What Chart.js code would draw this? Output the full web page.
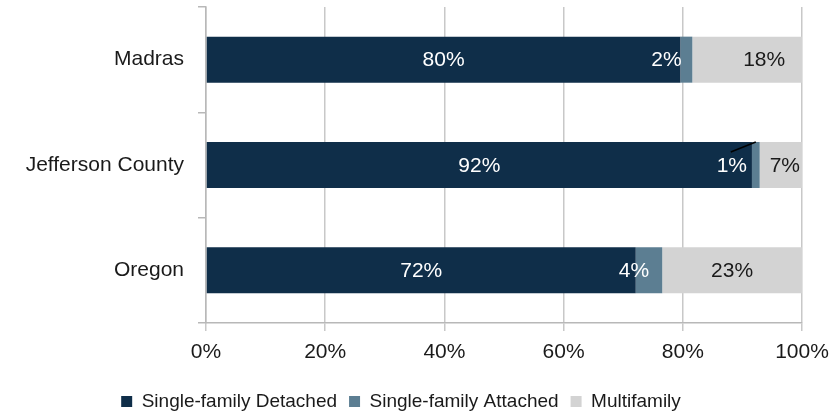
<!DOCTYPE html>
<html>
<head>
<meta charset="utf-8">
<script src="https://cdn.jsdelivr.net/npm/chart.js@4/dist/chart.umd.min.js"></script>
<style>
  html, body { margin: 0; padding: 0; background: #fff; }
  #wrap { width: 838px; height: 416px; position: relative; }
</style>
</head>
<body>
<div id="wrap"><canvas id="housing"></canvas></div>
<script>
// housing mix by place (share of units, %)
const places = ['Madras', 'Jefferson County', 'Oregon'];
const detached = [79.6, 91.6, 72.1];
const attached = [2.0, 1.3, 4.45];
const multifamily = [18.4, 7.1, 23.45];
const xTicks = [0, 20, 40, 60, 80, 100];

const seriesNames = ['Single-family Detached', 'Single-family Attached', 'Multifamily'];
const colors = ['#0f2e49', '#5c7e92', '#d3d3d3'];
const labelColors = ['#ffffff', '#ffffff', '#1a1a1a'];

// hand nudges for the value labels (pixels), like the original
const nudge = [
  [0, -20, 17],
  [0, -24, 4],
  [0, -15, 0]
];

const valueLabels = {
  id: 'valueLabels',
  afterDatasetsDraw(chart) {
    const c = chart.ctx;
    c.save();
    c.font = '21px "Liberation Sans", Arial, sans-serif';
    c.textAlign = 'center';
    c.textBaseline = 'middle';
    chart.data.datasets.forEach((ds, di) => {
      const meta = chart.getDatasetMeta(di);
      meta.data.forEach((bar, i) => {
        const p = bar.getProps(['x', 'y', 'base', 'height'], true);
        const cx = (p.x + p.base) / 2;
        const tx = cx + nudge[i][di];
        c.fillStyle = labelColors[di];
        c.fillText(Math.round(ds.data[i]) + '%', tx, p.y + 1);
        // leader line for the tiny Jefferson County slice
        if (di === 1 && i === 1) {
          c.strokeStyle = '#000';
          c.lineWidth = 1.5;
          c.beginPath();
          c.moveTo(tx - 1, p.y - 13);
          c.lineTo(cx, p.y - p.height / 2);
          c.stroke();
        }
      });
    });
    c.restore();
  }
};

new Chart(document.getElementById('housing'), {
  type: 'bar',
  data: {
    labels: places,
    datasets: [detached, attached, multifamily].map((d, k) => ({
      label: seriesNames[k],
      data: d,
      backgroundColor: colors[k],
      borderWidth: 0,
      barPercentage: 0.437,
      categoryPercentage: 1
    }))
  },
  options: {
    indexAxis: 'y',
    responsive: true,
    maintainAspectRatio: false,
    animation: false,
    layout: { padding: { top: 7, right: 36, left: 0, bottom: -5 } },
    plugins: {
      tooltip: { enabled: false },
      legend: {
        position: 'bottom',
        labels: {
          boxWidth: 11,
          boxHeight: 11,
          padding: 12,
          color: '#1a1a1a',
          font: { family: '"Liberation Sans", Arial, sans-serif', size: 19 }
        }
      }
    },
    scales: {
      x: {
        stacked: true,
        min: 0,
        max: 100,
        afterBuildTicks(s) { s.ticks = xTicks.map(v => ({ value: v })); },
        afterFit(s) { s.height = 57; },
        grid: { color: '#c8c8c8', lineWidth: 1.5, tickLength: 8 },
        border: { color: '#b8b8b8', width: 1.5 },
        ticks: {
          padding: 9,
          color: '#1a1a1a',
          font: { family: '"Liberation Sans", Arial, sans-serif', size: 21 },
          callback: v => v + '%'
        }
      },
      y: {
        stacked: true,
        afterFit(s) {
          s.width = 206;
          s.paddingTop = 0;
          s.paddingBottom = 0;
        },
        grid: { drawOnChartArea: false, color: '#b8b8b8', lineWidth: 1.5, tickLength: 8 },
        border: { color: '#b8b8b8', width: 1.5 },
        ticks: {
          padding: 14,
          color: '#1a1a1a',
          font: { family: '"Liberation Sans", Arial, sans-serif', size: 21 }
        }
      }
    }
  },
  plugins: [valueLabels]
});
</script>
</body>
</html>
